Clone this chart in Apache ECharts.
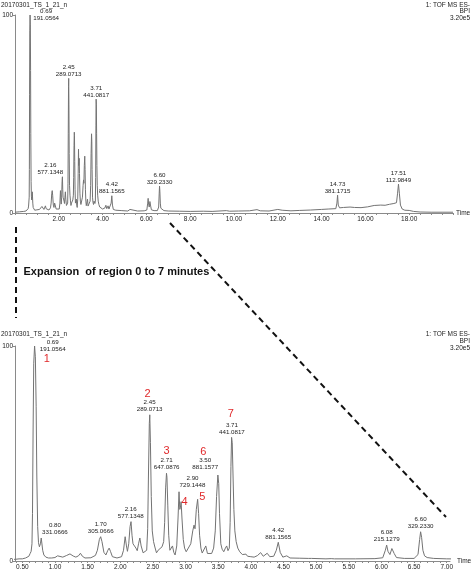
<!DOCTYPE html>
<html><head><meta charset="utf-8">
<script src="https://cdn.jsdelivr.net/npm/echarts@6/dist/echarts.min.js"></script>
<style>html,body{margin:0;padding:0;background:#fff}#c{width:472px;height:571px}</style>
</head><body><div id="c"></div>
<script>
// ---- chromatogram trace (time in min, intensity in %) ----
const traceTime = [
0,0.2,0.40,0.45,0.50,0.55,0.60,0.62,0.635,0.648,0.656,0.665,0.675,0.688,0.700,0.712,0.722,0.735,0.748,0.762,0.777,0.790,0.800,0.812,0.830,0.860,0.900,0.950,
1.000,1.040,1.070,1.120,1.180,1.230,1.280,1.320,1.360,1.390,1.420,1.460,1.550,1.620,1.650,1.680,1.700,1.720,1.750,1.780,1.810,1.830,1.850,1.880,1.950,
2.020,2.050,2.075,2.095,2.110,2.130,2.150,2.165,2.180,2.195,2.220,2.240,2.260,2.280,2.300,2.320,2.350,2.380,2.405,2.420,2.432,2.445,2.452,2.462,2.475,2.490,
2.510,2.530,2.555,2.580,2.610,2.640,2.665,2.680,2.695,2.708,2.715,2.728,2.742,2.760,2.775,2.800,2.820,2.840,2.865,2.885,2.900,2.912,2.922,2.932,2.945,2.965,2.985,
3.010,3.040,3.080,3.110,3.130,3.145,3.165,3.185,3.200,3.215,3.235,3.255,3.285,3.310,3.335,3.360,3.400,3.430,3.455,3.475,3.495,3.508,3.520,3.540,3.560,3.585,
3.610,3.630,3.650,3.670,3.683,3.695,3.705,3.715,3.727,3.740,3.755,3.775,3.800,3.830,3.870,3.900,3.925,3.950,4.000,4.050,4.100,4.150,4.190,4.250,4.290,4.350,4.390,
4.420,4.450,4.490,4.550,4.600,4.750,4.880,4.900,4.930,5.150,5.230,5.250,5.280,5.600,5.900,6.020,6.060,6.080,6.100,6.130,6.160,6.175,6.195,6.230,6.350,6.500,
6.560,6.585,6.600,6.615,6.635,6.660,6.700,6.800,7.000,7.500,8.000,8.600,9.000,9.650,9.800,10.200,10.700,11.050,11.200,11.600,12.000,12.200,12.600,13.000,
13.500,14.000,14.300,14.650,14.700,14.730,14.760,14.820,15.000,15.300,15.500,15.800,16.100,16.400,16.700,16.900,17.100,17.300,17.420,17.470,17.510,17.550,17.600,17.680,17.800,18.000,18.200,18.500,19.000,19.500,20.000];
const traceIntensity = [
0.4,0.6,0.8,1.0,1.0,1.4,2.2,3.5,4.5,8,22,60,92,100,95,72,40,16,8.5,6.6,8,10.7,10,5,2.8,1.8,1.4,1.4,
1.6,2.4,1.6,1.8,2.6,3.3,2.3,1.8,2.4,3.6,2.2,1.4,1.5,2.6,5,10,11.3,9,4,2.8,5,6,4.5,2,1.4,
2,5,11.3,7,4.5,8,16,18.3,12,8,8.6,6,4.8,8,10.7,7,3.8,3.2,5,15,40,64,68,55,30,14,
9,6.5,3.8,5,4.2,6.6,9,18,34,40.8,39,26,12,5,4.3,7,4,2.8,7,20,32.2,24,25,27.6,20,10,6,
4.3,4.6,8,14,16.7,15,24,28.7,22,12,6,3.7,4.5,7,3.5,2.8,3.5,6,14,30,40,36,22,8,5.5,4.3,
6,7,4.8,6,18,44,57.5,55,40,24,14,9,6,4.3,3,2.6,3.2,2.2,2,1.8,2.5,3.9,2.2,3.6,2,2.2,5,
8.7,4,1.8,2.4,1.4,1.3,1.2,2,1.2,1.0,1.1,1.8,1.0,1.0,1.1,1.5,5,7.4,4.5,3,5.8,6.4,3.5,1.6,1.2,1.2,
3,10,13.6,11,5,2.4,1.6,1.2,1.0,0.9,0.8,0.9,0.8,1.2,0.9,1.0,1.1,1.7,1.1,1.0,1.8,1.4,1.1,1.3,
1.5,1.8,2.0,2.2,5,9,4,2.6,2.8,3.0,2.8,2.7,3.1,3.8,4.0,3.9,4.4,4.8,5.2,10,14.6,10,4,2,1.4,1.3,0.8,0.5,0.4,0.4,0.4];

// ---- peak annotations ----
const topLabelTimes   = [0.69, 2.16, 2.45, 3.71, 4.42, 6.60, 14.73, 17.51];
const topLabelHeights = [100, 18.3, 68, 57.5, 8.7, 13.6, 9, 14.6];
const topLabelMasses  = ['191.0564','577.1348','289.0713','441.0817','881.1565','329.2330','381.1715','112.9849'];

const botLabelTimes   = [0.69, 0.80, 1.70, 2.16, 2.45, 2.71, 2.90, 3.50, 3.71, 4.42, 6.08, 6.60];
const botLabelHeights = [100, 10.7, 11.3, 18.3, 68, 40.8, 32.2, 40, 57.5, 8.7, 7.4, 13.6];
const botLabelMasses  = ['191.0564','331.0666','305.0666','577.1348','289.0713','647.0876','729.1448','881.1577','441.0817','881.1565','215.1279','329.2330'];

const compoundIds     = ['1','2','3','4','5','6','7'];
const compoundTimes   = [0.69, 2.45, 2.71, 2.93, 3.185, 3.50, 3.71];
const compoundHeights = [100, 68, 40.8, 27.6, 28.7, 40, 57.5];

// ---- axis ticks ----
const topTickLabels = [2, 4, 6, 8, 10, 12, 14, 16, 18];
const botTickLabels = [0.5, 1.0, 1.5, 2.0, 2.5, 3.0, 3.5, 4.0, 4.5, 5.0, 5.5, 6.0, 6.5, 7.0];

// ---- styling (positions/offsets kept separate from data) ----
const FONT = '"Liberation Sans Narrow","Liberation Sans",Arial,sans-serif';
const TXT = '#222';
const RED = '#e0282a';
const topOffsets = {'0.69':[16,0], '2.16':[-12,-8]};
const topDefault = [0,-7.5];
const botOffsets = {'0.69':[18,0], '0.80':[13,-9], '2.90':[13.5,-9.5], '3.50':[-13,-11]};
const botDefault = [0,-9];
const cmpOffsets = [[12,13],[-2,-21],[0,-22],[3.5,0],[4.7,-2.5],[-15,-23],[-1,-23]];

const minorTop = []; for (let v = 0; v <= 20.0001; v += 0.5) minorTop.push(+v.toFixed(2));
const minorBot = []; for (let v = 0.4; v <= 7.0001; v += 0.1) minorBot.push(+v.toFixed(2));

const trace = traceTime.map((t, i) => [t, traceIntensity[i]]);

function peakItems(times, heights, masses, offs, def) {
  return times.map((t, i) => ({
    name: t.toFixed(2) + '\n' + masses[i],
    coord: [t, heights[i]],
    label: { offset: offs[t.toFixed(2)] || def }
  }));
}
const cmpItems = compoundIds.map((id, i) => ({
  name: id,
  coord: [compoundTimes[i], compoundHeights[i]],
  label: { offset: cmpOffsets[i], fontSize: 11, color: RED, lineHeight: 11, fontFamily: 'Liberation Sans, Arial, sans-serif' }
}));

const mpBase = {
  symbol: 'circle', symbolSize: 1, silent: true,
  itemStyle: { color: 'rgba(0,0,0,0)' },
  label: { show: true, position: 'inside', formatter: '{b}', fontSize: 6.2, lineHeight: 7, color: TXT, fontFamily: FONT }
};

function xAxisCfg(grid, min, max, minor, labels, fontSize) {
  return {
    gridIndex: grid, type: 'value', min: min, max: max,
    axisLine: { show: true, onZero: false, lineStyle: { color: '#8a8a8a', width: 1 } },
    axisTick: { show: true, customValues: minor, length: 2, lineStyle: { color: '#8a8a8a' } },
    axisLabel: { customValues: labels, formatter: v => v.toFixed(2), fontSize: fontSize, color: TXT, margin: 3, fontFamily: FONT },
    splitLine: { show: false },
    name: 'Time', nameLocation: 'end', nameGap: 3,
    nameTextStyle: { fontSize: 6.5, color: TXT, fontFamily: FONT }
  };
}
function yAxisCfg(grid) {
  return {
    gridIndex: grid, type: 'value', min: 0, max: 100, interval: 100,
    axisLine: { show: true, lineStyle: { color: '#8a8a8a', width: 1 } },
    axisTick: { show: true, length: 2, lineStyle: { color: '#8a8a8a' } },
    axisLabel: { fontSize: 6.5, color: TXT, margin: 2, fontFamily: FONT },
    splitLine: { show: false },
    name: '%', nameLocation: 'middle', nameGap: 3, nameRotate: 90,
    nameTextStyle: { fontSize: 6, color: TXT, fontFamily: FONT }
  };
}

function txt(x, y, s, align, font, fill) {
  return { type: 'text', silent: true, style: { x: x, y: y, text: s, textAlign: align, textVerticalAlign: 'middle', font: font, fill: fill || TXT } };
}
const HF = '6.5px "Liberation Sans Narrow","Liberation Sans",Arial,sans-serif';

const chart = echarts.init(document.getElementById('c'), null, { renderer: 'canvas' });
chart.setOption({
  animation: false,
  backgroundColor: '#fff',
  grid: [
    { left: 15, top: 15, width: 438, height: 198, containLabel: false, outerBoundsMode: 'none' },
    { left: 15, top: 346, width: 435, height: 215, containLabel: false, outerBoundsMode: 'none' }
  ],
  xAxis: [
    xAxisCfg(0, 0, 20, minorTop, topTickLabels, 6.5),
    xAxisCfg(1, 0.388, 7.05, minorBot, botTickLabels, 6.5)
  ],
  yAxis: [yAxisCfg(0), yAxisCfg(1)],
  series: [
    {
      type: 'line', xAxisIndex: 0, yAxisIndex: 0, data: trace, showSymbol: false, symbol: 'none',
      lineStyle: { color: '#737373', width: 1 }, silent: true,
      markPoint: Object.assign({}, mpBase, { data: peakItems(topLabelTimes, topLabelHeights, topLabelMasses, topOffsets, topDefault) })
    },
    {
      type: 'line', xAxisIndex: 1, yAxisIndex: 1, data: trace, showSymbol: false, symbol: 'none',
      lineStyle: { color: '#737373', width: 1 }, silent: true, clip: true,
      markPoint: Object.assign({}, mpBase, { data: peakItems(botLabelTimes, botLabelHeights, botLabelMasses, botOffsets, botDefault).concat(cmpItems) })
    }
  ],
  graphic: [
    txt(1, 5, '20170301_TS_1_21_n', 'left', HF),
    txt(470, 5, '1: TOF MS ES-', 'right', HF),
    txt(470, 11.5, 'BPI', 'right', HF),
    txt(470, 18.5, '3.20e5', 'right', HF),
    txt(1, 334, '20170301_TS_1_21_n', 'left', HF),
    txt(470, 334, '1: TOF MS ES-', 'right', HF),
    txt(470, 341, 'BPI', 'right', HF),
    txt(470, 348, '3.20e5', 'right', HF),
    txt(23.5, 271.5, 'Expansion  of region 0 to 7 minutes', 'left', 'bold 11px "Liberation Sans",Arial,sans-serif', '#111'),
    { type: 'line', silent: true, shape: { x1: 16, y1: 227, x2: 16, y2: 318 }, style: { stroke: '#111', lineWidth: 2, lineDash: [6, 4] } },
    { type: 'line', silent: true, shape: { x1: 170, y1: 223, x2: 446, y2: 517 }, style: { stroke: '#111', lineWidth: 2, lineDash: [6, 4] } }
  ]
});
</script></body></html>
